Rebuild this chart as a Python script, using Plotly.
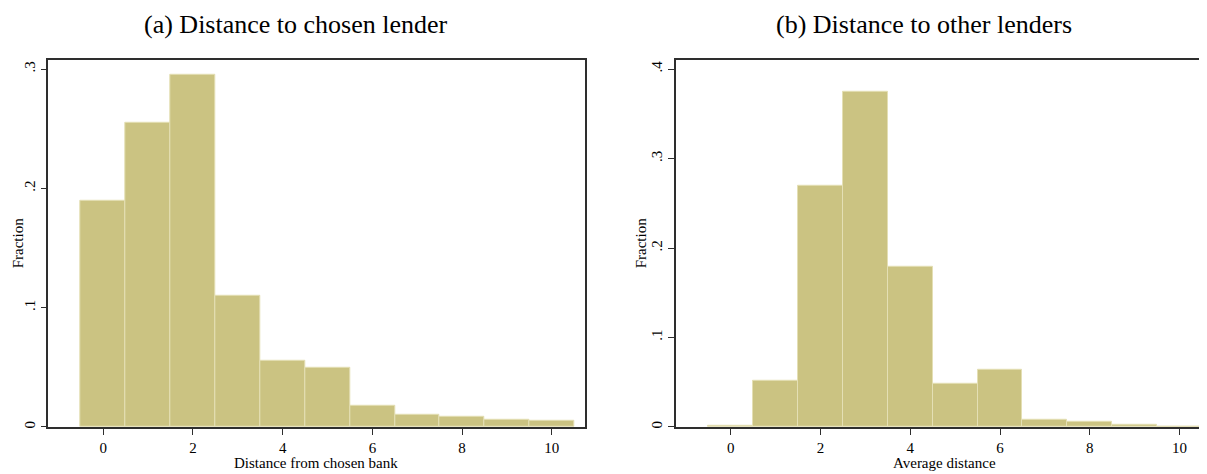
import plotly.graph_objects as go

# ---- data ----
bins = [0, 1, 2, 3, 4, 5, 6, 7, 8, 9, 10]
frac_chosen = [0.190, 0.255, 0.295, 0.110, 0.0554, 0.0498, 0.0175, 0.0106, 0.0084, 0.0062, 0.0050]
frac_other = [0.0010, 0.0512, 0.2693, 0.3744, 0.1790, 0.0483, 0.0642, 0.0084, 0.0063, 0.0019, 0.0005]
x_tickvals = [0, 2, 4, 6, 8, 10]
ya_tickvals = [0, 0.1, 0.2, 0.3]
ya_ticktext = ["0", ".1", ".2", ".3"]
yb_tickvals = [0, 0.1, 0.2, 0.3, 0.4]
yb_ticktext = ["0", ".1", ".2", ".3", ".4"]
title_a = "(a) Distance to chosen lender"
title_b = "(b) Distance to other lenders"
xtitle_a = "Distance from chosen bank"
xtitle_b = "Average distance"
ytitle = "Fraction"

# ---- style ----
W, H = 1207, 474
FILL = "#cbc382"
EDGE = "#e4dfb4"
AXC = "#2e2e2e"
FONT = "Liberation Serif"

fig = go.Figure()
fig.add_trace(go.Bar(x=bins, y=frac_chosen, width=1, xaxis="x", yaxis="y",
                     marker=dict(color=FILL, line=dict(color=EDGE, width=1)),
                     showlegend=False))
fig.add_trace(go.Bar(x=bins, y=frac_other, width=1, xaxis="x2", yaxis="y2",
                     marker=dict(color=FILL, line=dict(color=EDGE, width=1)),
                     showlegend=False))

def px_x(p):
    return p / W

def px_y(p):
    return 1 - p / H

axis_common = dict(showline=True, linecolor=AXC, linewidth=1.5, ticks="outside",
                   ticklen=6, tickwidth=1.2, tickcolor=AXC, showgrid=False,
                   zeroline=False, tickfont=dict(family=FONT, size=15, color="black"))

# figure-pixel geometry (page body adds an 8px offset)
L_AX, L_RT = 40.3, 576.6
R_AX, R_RT = 668.0, 1204.3
TOP, BOT = 52.0, 420.7

fig.update_layout(
    width=W, height=H, autosize=False,
    margin=dict(l=0, r=0, t=0, b=0),
    paper_bgcolor="white", plot_bgcolor="white",
    bargap=0,
    font=dict(family=FONT, size=15, color="black"),
    xaxis=dict(domain=[px_x(L_AX), px_x(L_RT)], range=[-1.224, 10.73], anchor="y",
               tickvals=x_tickvals, mirror=True, **axis_common),
    yaxis=dict(domain=[px_y(BOT), px_y(TOP)], range=[0, 0.3078], anchor="x",
               tickvals=ya_tickvals, ticktext=ya_ticktext, tickangle=-90, mirror=True,
               **axis_common),
    xaxis2=dict(domain=[px_x(R_AX), px_x(R_RT)], range=[-1.22, 10.73], anchor="y2",
                tickvals=x_tickvals, mirror=True, **axis_common),
    yaxis2=dict(domain=[px_y(BOT), px_y(TOP)], range=[0, 0.4104], anchor="x2",
                tickvals=yb_tickvals, ticktext=yb_ticktext, tickangle=-90,
                **axis_common),
)

annots = [
    dict(text=title_a, x=px_x(288), y=px_y(17), size=26),
    dict(text=title_b, x=px_x(916), y=px_y(17), size=26),
    dict(text=xtitle_a, x=px_x((L_AX + L_RT) / 2), y=px_y(456.5), size=15),
    dict(text=xtitle_b, x=px_x((R_AX + R_RT) / 2), y=px_y(456.5), size=15),
]
for a in annots:
    fig.add_annotation(text=a["text"], x=a["x"], y=a["y"], xref="paper", yref="paper",
                       showarrow=False, xanchor="center", yanchor="middle",
                       font=dict(family=FONT, size=a["size"], color="black"))
for xc in (10.0, 633.0):
    fig.add_annotation(text=ytitle, x=px_x(xc), y=px_y((TOP + BOT) / 2),
                       xref="paper", yref="paper", showarrow=False, textangle=-90,
                       xanchor="center", yanchor="middle",
                       font=dict(family=FONT, size=15, color="black"))

fig.write_html("out.html")
